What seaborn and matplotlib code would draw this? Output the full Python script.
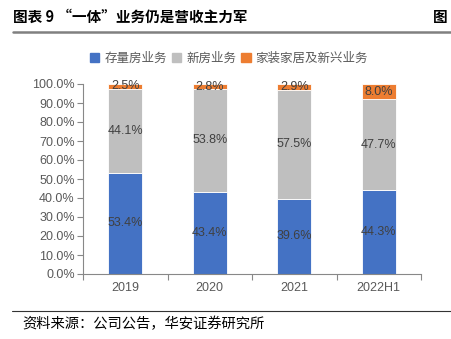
import matplotlib
matplotlib.use("Agg")
import matplotlib.pyplot as plt
import seaborn as sns
import pandas as pd
import numpy as np
from matplotlib.ticker import FixedLocator, PercentFormatter

categories = ["2019", "2020", "2021", "2022H1"]
stock = [53.4, 43.4, 39.6, 44.3]
new_house = [44.1, 53.8, 57.5, 47.7]
home_new = [2.5, 2.8, 2.9, 8.0]
series_names = ["存量房业务", "新房业务", "家装家居及新兴业务"]
colors = ["#4472C4", "#BFBFBF", "#ED7D31"]
title = "图表 9 “一体”业务仍是营收主力军"
source = "资料来源：公司公告，华安证券研究所"

sns.set_theme(style="white")
plt.rcParams['font.family'] = ['Liberation Sans', 'Noto Sans CJK SC', 'DejaVu Sans']
cjk = ['Noto Sans CJK SC', 'DejaVu Sans']

fig = plt.figure(figsize=(4.51, 3.39), dpi=100)
ax = fig.add_axes([83/451, 1-274/339, (421-83)/451, (274-84)/339])

df = pd.DataFrame({"cat": categories, "s": stock, "n": new_house, "h": home_new})
bottoms = np.zeros(len(categories))
handles = []
for col, name, c in zip(["s", "n", "h"], series_names, colors):
    sns.barplot(data=df, x="cat", y=col, color=c, width=0.4, bottom=bottoms,
                ax=ax, saturation=1, edgecolor="white", linewidth=0.6)
    vals = df[col].values
    for i, v in enumerate(vals):
        ax.text(i, bottoms[i] + v / 2, f"{v:.1f}%", ha="center", va="center",
                fontsize=9, color="#404040")
    handles.append(plt.Rectangle((0, 0), 1, 1, color=c))
    bottoms = bottoms + vals

ax.set_xlim(-0.5, 3.5)
ax.set_ylim(0, 100)
ax.set_xlabel("")
ax.set_ylabel("")
ax.yaxis.set_major_locator(FixedLocator(np.arange(0, 101, 10)))
ax.yaxis.set_major_formatter(PercentFormatter(decimals=1))
ax.tick_params(axis="y", labelsize=9, labelcolor="#595959", length=4, width=0.8,
               color="#888888", direction="out", left=True, pad=2)
ax.tick_params(axis="x", which="major", labelsize=9, labelcolor="#595959", length=0, pad=6)
ax.xaxis.set_minor_locator(FixedLocator([-0.5, 0.5, 1.5, 2.5, 3.5]))
ax.tick_params(axis="x", which="minor", length=4, width=0.8, color="#888888", bottom=True)
for s in ["top", "right"]:
    ax.spines[s].set_visible(False)
for s in ["left", "bottom"]:
    ax.spines[s].set_color("#888888")
    ax.spines[s].set_linewidth(0.8)

leg = fig.legend(handles, series_names, loc="center", bbox_to_anchor=(229/451, 1-58/339),
                 ncol=3, frameon=False, prop={'family': cjk, 'size': 9},
                 handlelength=0.75, handleheight=0.75, handletextpad=0.4, columnspacing=0.4)
for t in leg.get_texts():
    t.set_color("#595959")

fig.text(13/451, 1-17/339, title, ha="left", va="center", fontsize=10.5,
         fontweight="bold", family=cjk, color="#000000")
fig.text(448/451, 1-17/339, "图", ha="right", va="center", fontsize=10.5,
         fontweight="bold", family=cjk, color="#000000")
fig.add_artist(plt.Line2D([13/451, 1], [1-32/339, 1-32/339], color="#808080", lw=1.8))
fig.add_artist(plt.Line2D([12/451, 1], [1-311/339, 1-311/339], color="#333333", lw=0.8))
fig.text(22/451, 1-324/339, source, ha="left", va="center", fontsize=10.3,
         family=cjk, color="#000000")

fig.savefig("out.png", dpi=100)
